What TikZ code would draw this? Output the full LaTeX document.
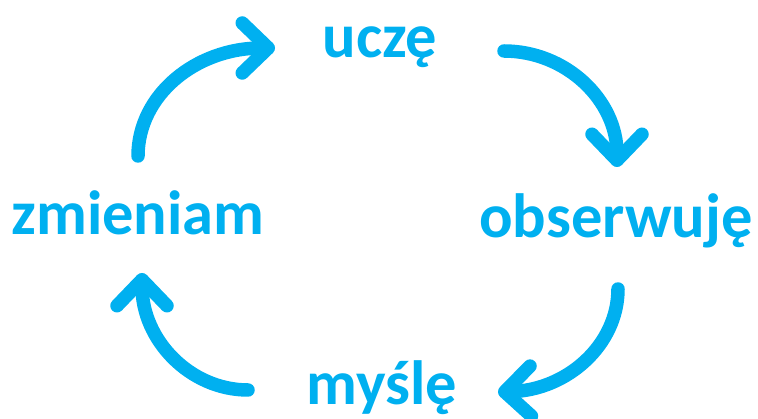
\documentclass[tikz,border=0pt]{standalone}
\usepackage{fontspec}
\setmainfont{Carlito}
\usetikzlibrary{arrows.meta}
\definecolor{cyc}{RGB}{0,176,240}
\tikzset{
  word/.style={anchor=base, inner sep=0pt, text=cyc, font=\fontsize{62.5}{62.5}\selectfont\bfseries},
  cycarrow/.style={draw=cyc, line width=13.5pt, line cap=round,
    -{Straight Barb[length=26pt, width=50pt, round]}}
}
\begin{document}
\begin{tikzpicture}[x=1pt, y=-1pt]
\useasboundingbox (0,0) rectangle (758,419);
\node[word] (ucze) at (380,58) {uczę};
\node[word] (obs) at (616,238) {obserwuję};
\node[word] (mysle) at (382,405) {myślę};
\node[word] (zmien) at (138,235) {zmieniam};
% arrow end points
\coordinate (a1s) at (138,156);
\coordinate (a1e) at (275,48);
\coordinate (a2s) at (504,51);
\coordinate (a2e) at (617,167);
\coordinate (a3s) at (618,289);
\coordinate (a3e) at (498,392);
\coordinate (a4s) at (248,390);
\coordinate (a4e) at (142,273);
\draw[cycarrow] (a1s) .. controls (138,95) and (196,48) .. (a1e);
\draw[cycarrow] (a2s) .. controls (566,51) and (617,100) .. (a2e);
\draw[cycarrow] (a3s) .. controls (618,345) and (567,390) .. (a3e);
\draw[cycarrow] (a4s) .. controls (190,390) and (142,340) .. (a4e);
\end{tikzpicture}
\end{document}
